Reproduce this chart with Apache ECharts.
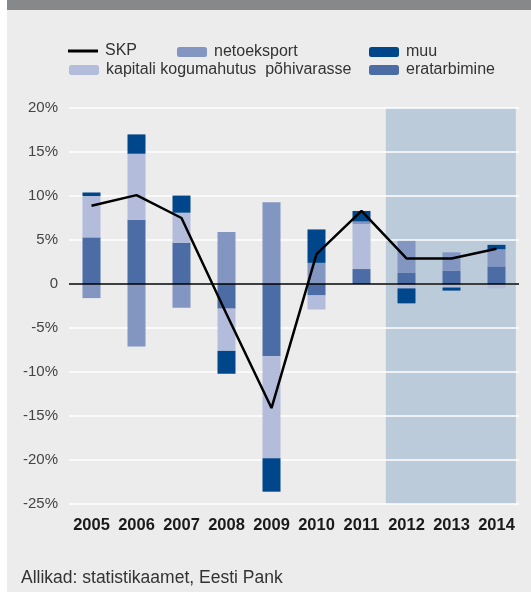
<!DOCTYPE html>
<html>
<head>
<meta charset="utf-8">
<script src="https://cdn.jsdelivr.net/npm/echarts@6/dist/echarts.min.js"></script>
<style>
  html, body { margin: 0; padding: 0; background: #fff; }
  #chart { width: 531px; height: 592px; }
</style>
</head>
<body>
<div id="chart"></div>
<script>
    var years = ['2005', '2006', '2007', '2008', '2009', '2010', '2011', '2012', '2013', '2014'];

    // contributions to growth, percentage points
    var eratarbimine = [5.3, 7.3, 4.7, -2.8, -8.2, -1.3, 1.7, 1.3, 1.5, 2.0];
    var kapitali = [4.7, 7.5, 3.4, -4.8, -11.6, -1.6, 5.1, -0.5, -0.4, -0.5];
    var netoeksport = [-1.6, -7.1, -2.7, 5.9, 9.3, 2.4, 0.3, 3.6, 2.1, 1.95];
    var muu = [0.4, 2.2, 1.95, -2.6, -3.8, 3.8, 1.2, -1.7, -0.35, 0.5];
    var skp = [8.9, 10.1, 7.5, -3.4, -14.1, 3.4, 8.3, 2.9, 2.9, 4.0];

    var font = 'Liberation Sans, Arial, Helvetica, sans-serif';

    var myChart = echarts.init(document.getElementById('chart'));

    function legendItem(name, left, top, opts) {
        var l = {
            data: [name],
            left: left,
            top: top,
            padding: 0,
            itemWidth: 30,
            itemHeight: 10,
            selectedMode: false,
            textStyle: {
                fontFamily: font,
                fontSize: 16,
                color: '#333',
                padding: [0, 0, 0, 2]
            }
        };
        if (opts) {
            for (var k in opts) { l[k] = opts[k]; }
        }
        return l;
    }

    var option = {
        backgroundColor: '#ebeceb',
        animation: false,
        graphic: [{
            type: 'rect',
            shape: { x: 0, y: 0, width: 7, height: 592 },
            style: { fill: '#ffffff' },
            silent: true
        }, {
            type: 'rect',
            shape: { x: 7, y: 0, width: 524, height: 10 },
            style: { fill: '#87888a' },
            silent: true
        }, {
            type: 'text',
            left: 21,
            top: 569,
            style: {
                text: 'Allikad: statistikaamet, Eesti Pank',
                fontFamily: font,
                fontSize: 17.5,
                fill: '#333'
            }
        }],
        legend: [
            legendItem('SKP', 68, 43, { itemHeight: 3, data: [{ name: 'SKP', icon: 'rect' }] }),
            legendItem('netoeksport', 177, 44),
            legendItem('muu', 369, 44),
            legendItem('kapitali kogumahutus  põhivarasse', 69, 62),
            legendItem('eratarbimine', 369, 62)
        ],
        grid: {
            left: 69,
            right: 12,
            top: 108,
            bottom: 88
        },
        xAxis: [{
            type: 'category',
            data: years,
            axisLine: { show: false },
            axisTick: { show: false },
            axisLabel: {
                interval: 0,
                hideOverlap: false,
                margin: 13,
                fontFamily: font,
                fontSize: 16.5,
                fontWeight: 'bold',
                color: '#1a1a1a'
            }
        }, {
            type: 'value',
            min: 0,
            max: 10,
            show: false
        }],
        yAxis: [{
            type: 'value',
            min: -25,
            max: 20,
            interval: 5,
            z: 1,
            axisLine: { show: false },
            axisTick: { show: false },
            splitLine: { lineStyle: { color: '#ffffff', width: 1.5 } },
            axisLabel: {
                margin: 11,
                fontFamily: font,
                fontSize: 15,
                color: '#444',
                formatter: function (v) { return v === 0 ? '0' : v + '%'; }
            }
        }],
        series: [{
            name: 'forecast',
            type: 'line',
            xAxisIndex: 1,
            z: 0,
            data: [],
            silent: true,
            markArea: {
                silent: true,
                z: 0,
                itemStyle: { color: '#bccbd9' },
                data: [[{ xAxis: 7.04, yAxis: 20 }, { xAxis: 9.93, yAxis: -25 }]]
            }
        }, {
            name: 'eratarbimine',
            type: 'bar',
            stack: 'k',
            barWidth: 18,
            z: 2,
            itemStyle: { color: '#4b6ca4' },
            data: eratarbimine
        }, {
            name: 'kapitali kogumahutus  põhivarasse',
            type: 'bar',
            stack: 'k',
            barWidth: 18,
            z: 2,
            itemStyle: { color: '#b3bcdb' },
            data: kapitali
        }, {
            name: 'netoeksport',
            type: 'bar',
            stack: 'k',
            barWidth: 18,
            z: 2,
            itemStyle: { color: '#8395c1' },
            data: netoeksport
        }, {
            name: 'muu',
            type: 'bar',
            stack: 'k',
            barWidth: 18,
            z: 2,
            itemStyle: { color: '#00468a' },
            data: muu,
            markLine: {
                silent: true,
                symbol: 'none',
                label: { show: false },
                lineStyle: { color: '#000', width: 1.5, type: 'solid' },
                data: [{ yAxis: 0 }]
            }
        }, {
            name: 'SKP',
            type: 'line',
            z: 4,
            symbol: 'none',
            lineStyle: { color: '#000', width: 2.5 },
            itemStyle: { color: '#000' },
            data: skp
        }]
    };

    myChart.setOption(option, true);
</script>
</body>
</html>
